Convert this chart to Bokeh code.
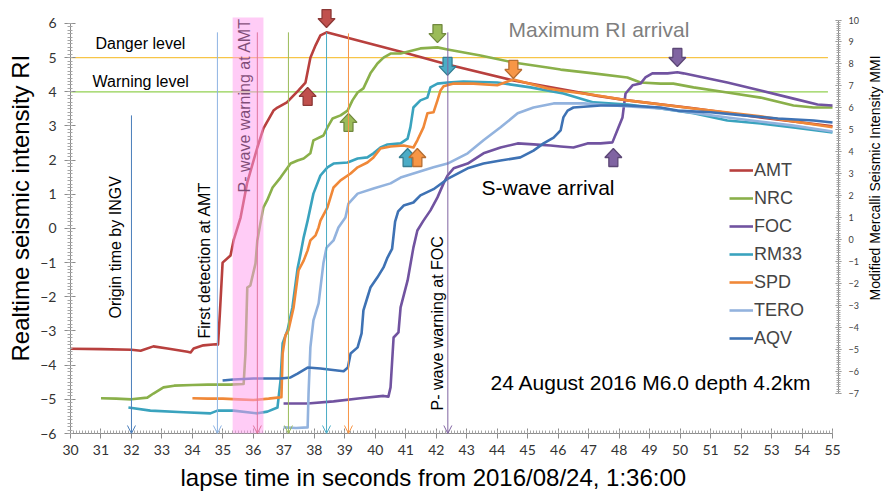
import math
from bokeh.plotting import figure
from bokeh.layouts import row
from bokeh.models import (Range1d, LinearAxis, SingleIntervalTicker, Label, Arrow, Title,
                          OpenHead, BoxAnnotation, Legend, LegendItem)
from bokeh.embed import file_html
from bokeh.resources import INLINE

# ---------------- data ----------------
SERIES = ["AMT", "NRC", "FOC", "RM33", "SPD", "TERO", "AQV"]
COLORS = ["#B8403E", "#8AB04A", "#7153A0", "#3AA3BE", "#F08838", "#93B3DE", "#3E72B4"]

AMT_T = [30, 31, 32, 32.3, 32.72, 33.18, 33.84, 33.94, 34.04, 34.36, 34.76, 34.84, 34.9, 34.99,
         35.25, 35.35, 35.58, 35.8, 36.13, 36.33, 36.66, 36.79, 37.1, 37.48, 37.71, 37.87, 38.04,
         38.2, 38.4, 41.06, 42.37, 44.53, 46.08, 47.29, 48.27, 50.44, 52.64, 55.0]
AMT_RI = [-3.52, -3.53, -3.55, -3.58, -3.45, -3.51, -3.61, -3.63, -3.51, -3.42, -3.39, -3.4, -2.49,
          -1.0, -0.79, -0.35, 0.32, 1.35, 2.37, 2.93, 3.45, 3.54, 3.69, 4.04, 4.27, 5.0, 5.36,
          5.65, 5.74, 5.12, 4.8, 4.33, 4.08, 3.88, 3.75, 3.52, 3.25, 2.99]

NRC_T = [31.0, 31.5, 32.0, 32.52, 32.72, 33.05, 33.4, 34.0, 34.5, 35.25, 35.68, 35.74, 35.8, 35.9,
         36.07, 36.13, 36.23, 36.33, 36.45, 36.63, 36.89, 37.22, 37.45, 37.65, 37.87, 37.97, 38.3,
         38.43, 38.6, 38.86, 39.09, 39.25, 39.42, 39.61, 39.84, 40.07, 40.27, 40.5, 40.83, 41.48,
         42.04, 42.37, 43.45, 44.53, 45.65, 46.08, 47.16, 48.27, 48.7, 49.36, 49.78, 50.44, 51.55,
         52.64, 53.72, 54.38, 55.0]
NRC_RI = [-4.97, -4.98, -5.0, -4.95, -4.83, -4.65, -4.6, -4.58, -4.57, -4.57, -4.55, -3.66, -1.73,
          -1.67, -1.02, -0.35, 0.15, 0.62, 0.82, 1.2, 1.49, 1.9, 1.99, 2.05, 2.2, 2.58, 2.72,
          2.96, 3.22, 3.31, 3.45, 3.75, 3.98, 4.1, 4.54, 4.83, 5.0, 5.12, 5.12, 5.27,
          5.3, 5.24, 5.06, 4.86, 4.71, 4.65, 4.54, 4.42, 4.27, 4.24, 4.24, 4.13, 3.98,
          3.83, 3.6, 3.54, 3.54]

FOC_T = [36.99, 37.78, 38.63, 39.51, 40.27, 40.43, 40.5, 40.6, 40.76, 40.83, 41.06, 41.25, 41.38,
         41.58, 41.81, 42.04, 42.24, 42.37, 42.57, 43.03, 43.55, 44.11, 44.67, 45.19, 45.75, 46.08,
         46.5, 46.96, 47.39, 47.78, 47.98, 48.11, 48.21, 48.44, 48.7, 48.86, 49.09, 49.59, 49.91,
         50.11, 51.55, 52.64, 53.72, 54.51, 55.0]
FOC_RI = [-5.12, -5.12, -5.06, -4.97, -4.9, -4.92, -4.65, -3.19, -3.04, -2.31, -1.52, -0.56, -0.06,
          0.23, 0.53, 0.91, 1.32, 1.55, 1.76, 1.9, 2.2, 2.37, 2.49, 2.46, 2.43, 2.40,
          2.37, 2.49, 2.49, 2.52, 2.96, 3.25, 3.95, 4.19, 4.24, 4.42, 4.54, 4.54, 4.57,
          4.54, 4.27, 4.04, 3.8, 3.63, 3.6]

RM33_T = [31.9, 32.62, 33.71, 34.59, 34.82, 35.35, 36.13, 36.46, 36.79, 36.89, 36.96, 37.12, 37.28,
          37.45, 37.55, 37.65, 37.78, 37.97, 38.2, 38.43, 38.63, 39.09, 39.42, 39.74, 39.94, 40.17,
          40.4, 40.83, 41.06, 41.15, 41.25, 41.48, 41.71, 41.81, 42.04, 42.37, 42.89, 44.0, 45.09,
          46.17, 47.16, 48.27, 49.36, 50.44, 51.55, 52.64, 53.72, 55.0]
RM33_RI = [-5.24, -5.33, -5.38, -5.41, -5.33, -5.33, -5.41, -5.36, -5.24, -4.45, -3.36, -2.98, -2.31,
           -1.17, -0.73, -0.26, 0.23, 1.02, 1.55, 1.79, 1.9, 1.93, 2.05, 2.08, 2.2, 2.37,
           2.46, 2.49, 2.63, 2.96, 3.54, 3.75, 3.83, 4.13, 4.24, 4.27, 4.3, 4.27, 4.13,
           3.95, 3.69, 3.63, 3.51, 3.37, 3.16, 3.07, 2.96, 2.81]

SPD_T = [34.0, 34.5, 35.0, 35.5, 36.0, 36.5, 36.79, 36.92, 36.96, 37.05, 37.15, 37.32, 37.48, 37.65,
         37.78, 37.87, 38.04, 38.14, 38.2, 38.43, 38.63, 38.86, 39.19, 39.42, 39.74, 39.94, 40.17,
         40.5, 40.93, 41.25, 41.38, 41.58, 41.71, 41.91, 42.04, 42.14, 42.24, 42.57, 43.22, 44.0,
         44.53, 45.65, 46.08, 47.29, 48.27, 50.44, 52.64, 55.0]
SPD_RI = [-4.97, -4.98, -4.98, -5.0, -5.02, -4.98, -4.95, -4.94, -3.66, -3.13, -2.98, -2.31, -1.23,
          -0.94, -0.64, -0.35, -0.2, 0.03, 0.23, 0.62, 1.2, 1.41, 1.61, 1.79, 1.93, 2.08, 2.34,
          2.4, 2.43, 2.37, 2.58, 2.96, 3.37, 3.4, 3.75, 4.04, 4.16, 4.24, 4.24, 4.19,
          4.36, 4.1, 4.04, 3.89, 3.75, 3.51, 3.28, 2.96]

TERO_T = [36.99, 37.4, 37.78, 37.81, 37.87, 37.97, 38.14, 38.3, 38.4, 38.63, 38.79, 39.02, 39.12,
          39.42, 39.94, 40.5, 40.83, 41.25, 41.91, 42.37, 43.03, 43.55, 44.11, 44.67, 45.19, 45.85,
          46.83, 47.81, 49.36, 51.55, 53.72, 55.0]
TERO_RI = [-5.82, -5.84, -5.82, -4.83, -3.48, -2.69, -2.19, -1.0, -0.56, -0.35, 0.03, 0.32, 0.73,
           1.02, 1.17, 1.32, 1.49, 1.61, 1.79, 1.9, 2.2, 2.58, 2.96, 3.37, 3.54, 3.66,
           3.66, 3.6, 3.51, 3.25, 3.01, 2.84]

AQV_T = [34.99, 35.35, 36.0, 36.89, 37.22, 37.45, 37.78, 38.2, 38.96, 39.1, 39.19, 39.42, 39.55,
         39.61, 39.74, 39.84, 40.07, 40.27, 40.4, 40.55, 40.65, 40.75, 40.93, 41.25, 41.48, 41.91,
         42.37, 43.03, 43.55, 44.11, 44.76, 45.19, 45.52, 45.85, 46.08, 46.17, 46.31, 46.5, 47.39,
         48.27, 49.36, 49.91, 51.0, 52.08, 53.2, 54.38, 55.0]
AQV_RI = [-4.45, -4.42, -4.39, -4.39, -4.36, -4.25, -4.07, -4.1, -4.18, -4.07, -3.66, -3.48, -3.07,
          -2.4, -2.02, -1.73, -1.43, -1.14, -0.85, -0.6, 0.2, 0.5, 0.67, 0.76, 0.97, 1.15,
          1.45, 1.76, 1.9, 1.99, 2.08, 2.28, 2.49, 2.66, 2.87, 3.25, 3.45, 3.54, 3.6,
          3.6, 3.54, 3.45, 3.4, 3.31, 3.22, 3.16, 3.1]

# alert levels
LEVEL_NAMES = ["Danger level", "Warning level"]
LEVEL_RI = [5, 4]
LEVEL_COLORS = ["#F7C548", "#92D050"]
LEVEL_END_T = 54.85

# event markers (vertical arrows down to the time axis)
MARK_T = [32.0, 34.82, 36.13, 37.15, 38.40, 39.12, 42.38]
MARK_TOP_RI = [3.31, 5.74, 5.74, 5.74, 5.74, 5.71, 5.74]
MARK_COLORS = ["#4A7EBB", "#8EB4E3", "#C0504D", "#9BBB59", "#4BACC6", "#F79646", "#8064A2"]

# maximum RI arrival (down arrows) and S-wave arrival (up arrows): AMT, NRC, RM33, SPD, FOC
ARROW_FILL = ["#C0504D", "#9BBB59", "#4BACC6", "#F79646", "#8064A2"]
ARROW_EDGE = ["#8C3836", "#71893F", "#357D91", "#B66D31", "#5C4776"]
MAX_T = [38.40, 42.04, 42.37, 44.53, 49.91]
MAX_RI = [5.88, 5.44, 4.48, 4.39, 4.74]
S_T = [37.78, 39.12, 41.06, 41.38, 47.81]
S_RI = [4.13, 3.37, 2.34, 2.34, 2.34]

X_TITLE = "lapse time in seconds from 2016/08/24, 1:36:00"
Y_TITLE = "Realtime seismic intensity RI"
Y2_TITLE = "Modified Mercalli Seismic Intensity MMI"

series_t = [AMT_T, NRC_T, FOC_T, RM33_T, SPD_T, TERO_T, AQV_T]
series_ri = [AMT_RI, NRC_RI, FOC_RI, RM33_RI, SPD_RI, TERO_RI, AQV_RI]

# ---------------- layout ----------------
H = 494
WL, WR = 36, 22                 # side strips carrying the rotated axis titles
W = 884 - WL - WR               # main figure width
ML, MR, MT, MB = 70 - WL, 24, 8, 61
FW, FH = W - ML - MR, H - MT - MB
PXX = 30.48          # px per second
PXY = 34.17          # px per RI unit
PXM = 21.97          # px per MMI unit
X0 = 30.0
X1 = X0 + FW / PXX
Y0 = -6.0
Y1 = Y0 + FH / PXY
M0 = -7.0 - 40.0 / PXM
M1 = M0 + FH / PXM

# helpers: picture pixel -> data (frame left = 70 px at t=30, RI 6 at y 23)
def px2x(px):
    return X0 + (px - 70) / PXX

def py2y(py):
    return 6 - (py - 23) / PXY

FONT = "Liberation Sans"

p = figure(width=W, height=H, x_range=Range1d(X0, X1), y_range=Range1d(Y0, Y1),
           output_backend="svg", toolbar_location=None,
           min_border_left=ML, min_border_right=MR, min_border_top=MT, min_border_bottom=MB)
p.outline_line_color = None
p.xgrid.visible = False
p.ygrid.visible = False
p.background_fill_color = "white"
p.border_fill_color = "white"
p.extra_y_ranges = {"mmi": Range1d(M0, M1)}

AX_COL = "#8C8C8C"
TICK_COL = "#333333"

xa = p.xaxis[0]
xa.ticker = SingleIntervalTicker(interval=1, num_minor_ticks=10)
xa.bounds = (30, 55)
xa.axis_line_color = AX_COL
xa.major_tick_line_color = AX_COL
xa.minor_tick_line_color = "#A6A6A6"
xa.major_tick_in = 5
xa.major_tick_out = 5
xa.minor_tick_in = 3
xa.minor_tick_out = 0
xa.major_label_standoff = 6
xa.major_label_text_font = "Lato"
xa.major_label_text_font_size = "14px"
xa.major_label_text_color = TICK_COL

ya = p.yaxis[0]
ya.ticker = SingleIntervalTicker(interval=1, num_minor_ticks=10)
ya.bounds = (-6, 6)
ya.axis_line_color = AX_COL
ya.major_tick_line_color = AX_COL
ya.minor_tick_line_color = "#A6A6A6"
ya.major_tick_in = 5
ya.major_tick_out = 6
ya.minor_tick_in = 2
ya.minor_tick_out = 3
ya.major_label_standoff = 8
ya.major_label_text_font = "Lato"
ya.major_label_text_font_size = "14px"
ya.major_label_text_color = TICK_COL

ra = LinearAxis(y_range_name="mmi", ticker=SingleIntervalTicker(interval=1, num_minor_ticks=10),
                bounds=(-7, 10))
ra.axis_line_color = AX_COL
ra.major_tick_line_color = AX_COL
ra.minor_tick_line_color = "#A6A6A6"
ra.major_tick_in = 3
ra.major_tick_out = 3
ra.minor_tick_in = 2
ra.minor_tick_out = 2
ra.major_label_standoff = 7
ra.major_label_text_font = "Lato"
ra.major_label_text_font_size = "9px"
ra.major_label_text_color = "#404040"
p.add_layout(ra, "right")

p.add_layout(Title(text=X_TITLE, align="left", offset=110, standoff=8,
                   text_font=FONT, text_font_size="24px", text_font_style="normal",
                   text_color="black"), "below")

# alert level lines
p.segment(x0=[X0] * len(LEVEL_RI), y0=LEVEL_RI, x1=[LEVEL_END_T] * len(LEVEL_RI), y1=LEVEL_RI,
          line_color=LEVEL_COLORS, line_width=1.3)

# series
renderers = []
for name, t, ri, col in zip(SERIES, series_t, series_ri, COLORS):
    r = p.line(t, ri, line_color=col, line_width=2.6, line_join="round")
    renderers.append(r)

# block arrows (px geometry converted to data units)
SHAPE = [(0, 0), (8.5, 9), (4.5, 9), (4.5, 18), (-4.5, 18), (-4.5, 9), (-8.5, 9)]

def arrow_poly(t, ri, sign):
    xs = [t + ox / PXX for ox, oy in SHAPE]
    ys = [ri + sign * oy / PXY for ox, oy in SHAPE]
    return xs, ys

xs_all, ys_all, fills, edges = [], [], [], []
for t, ri, f, e in zip(MAX_T, MAX_RI, ARROW_FILL, ARROW_EDGE):
    xs, ys = arrow_poly(t, ri, 1)
    xs_all.append(xs); ys_all.append(ys); fills.append(f); edges.append(e)
for t, ri, f, e in zip(S_T, S_RI, ARROW_FILL, ARROW_EDGE):
    xs, ys = arrow_poly(t, ri, -1)
    xs_all.append(xs); ys_all.append(ys); fills.append(f); edges.append(e)
p.patches(xs_all, ys_all, fill_color=fills, line_color=edges, line_width=1.3)

# vertical marker arrows
for t, top, col in zip(MARK_T, MARK_TOP_RI, MARK_COLORS):
    p.add_layout(Arrow(end=OpenHead(size=8, line_color=col, line_width=1),
                       x_start=t, y_start=top, x_end=t, y_end=Y0,
                       line_color=col, line_width=1))

def add_label(fig, x, y, text, size, angle=0.0, align="left", baseline="alphabetic",
              color="black", font=FONT):
    fig.add_layout(Label(x=x, y=y, text=text, angle=angle, text_align=align,
                         text_baseline=baseline, text_font=font, text_font_size=size,
                         text_color=color))

V = math.pi / 2
add_label(p, px2x(115), py2y(318), "Origin time by INGV", "16px", V, "left", "middle")
add_label(p, px2x(204), py2y(338), "First detection at AMT", "16px", V, "left", "middle")
add_label(p, px2x(243.5), py2y(192), "P- wave warning at AMT", "16px", V, "left", "middle")
add_label(p, px2x(437), py2y(410), "P- wave warning at FOC", "16px", V, "left", "middle")

add_label(p, px2x(95), py2y(43.5), LEVEL_NAMES[0], "16px")
add_label(p, px2x(92), py2y(81), LEVEL_NAMES[1], "16px")
add_label(p, px2x(508), py2y(29), "Maximum RI arrival", "21px", color="#7F7F7F")
add_label(p, px2x(481), py2y(187), "S-wave arrival", "21px")
add_label(p, px2x(490), py2y(382), "24 August 2016 M6.0 depth 4.2km", "21px")

# pink P-wave warning band on top
p.add_layout(BoxAnnotation(left=35.32, right=36.33, bottom=Y0, top=py2y(17),
                           fill_color="#FF99EE", fill_alpha=0.5, line_color=None,
                           level="overlay"))

legend = Legend(items=[LegendItem(label=n, renderers=[r]) for n, r in zip(SERIES, renderers)],
                location=(659, 81), orientation="vertical",
                glyph_width=24, glyph_height=28, label_height=28, spacing=0,
                padding=0, margin=0, label_standoff=1,
                label_text_font=FONT, label_text_font_size="18px",
                border_line_alpha=0, background_fill_alpha=0)
p.add_layout(legend)

# ---- side strips with rotated axis titles (pixel coordinates inside each strip) ----
def strip(width):
    f = figure(width=width, height=H, x_range=Range1d(0, width), y_range=Range1d(0, H),
               output_backend="svg", toolbar_location=None,
               x_axis_location=None, y_axis_location=None,
               min_border_left=0, min_border_right=0, min_border_top=0, min_border_bottom=0)
    f.outline_line_color = None
    f.xgrid.visible = False
    f.ygrid.visible = False
    f.background_fill_color = "white"
    f.border_fill_color = "white"
    return f

left_strip = strip(WL)
add_label(left_strip, 20, H - 232, Y_TITLE, "24px", V, "center", "middle")

right_strip = strip(WR)
add_label(right_strip, 874 - (884 - WR), H - 197, Y2_TITLE, "14px", V, "center", "middle")

layout = row(left_strip, p, right_strip, spacing=0)

open("out.html", "w").write(file_html(layout, INLINE))
